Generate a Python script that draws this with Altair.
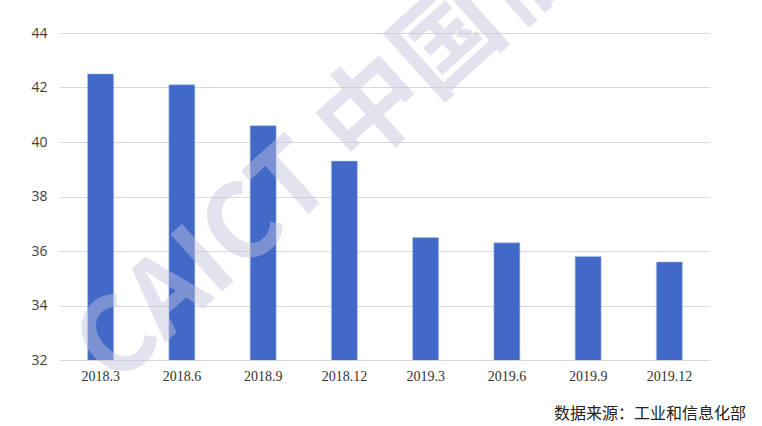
import altair as alt
import pandas as pd

# Quarterly values
periods = ["2018.3", "2018.6", "2018.9", "2018.12", "2019.3", "2019.6", "2019.9", "2019.12"]
values = [42.5, 42.1, 40.6, 39.3, 36.5, 36.3, 35.8, 35.6]
y_ticks = [32, 34, 36, 38, 40, 42, 44]

source_note = "数据来源：工业和信息化部"
watermark = "CAICT 中国信通院"

df = pd.DataFrame({"period": periods, "value": values})

W, H = 650, 327

base = alt.Chart(df)

bars = base.mark_bar(color="#4169c8", stroke="#a9bde8", strokeWidth=0.6, clip=True).encode(
    x=alt.X(
        "period:N",
        sort=periods,
        title=None,
        scale=alt.Scale(paddingInner=0.68, paddingOuter=0.34),
        axis=alt.Axis(
            labelAngle=0,
            labelFont="Liberation Serif",
            labelFontSize=14,
            labelColor="#333333",
            labelPadding=9,
            ticks=False,
            domain=False,
            grid=False,
        ),
    ),
    y=alt.Y(
        "value:Q",
        title=None,
        scale=alt.Scale(domain=[32, 44], nice=False, zero=False),
        axis=alt.Axis(
            values=y_ticks,
            labelFont="Open Sans",
            labelFontSize=14,
            labelColor="#404040",
            labelPadding=13,
            ticks=False,
            domain=False,
            gridColor="#d9d9d9",
            gridWidth=1,
        ),
    ),
)

# Faint diagonal watermark over the plot
wm = alt.Chart(pd.DataFrame({"t": [watermark]})).mark_text(
    align="left",
    baseline="middle",
    angle=318,
    font="Noto Sans CJK SC",
    fontWeight="bold",
    fontSize=104,
    color="#c3c3dc",
    opacity=0.45,
).encode(x=alt.value(34), y=alt.value(332), text="t:N")

note = alt.Chart(pd.DataFrame({"t": [source_note]})).mark_text(
    align="right",
    baseline="middle",
    font="Noto Sans CJK SC",
    fontSize=16,
    color="#222222",
).encode(x=alt.value(686), y=alt.value(381), text="t:N")

chart = (
    alt.layer(bars, wm, note)
    .properties(
        width=W,
        height=H,
        padding={"left": 60, "top": 33, "right": 52, "bottom": 66},
        autosize=alt.AutoSizeParams(type="none"),
        background="white",
    )
    .configure_view(strokeWidth=0, stroke="transparent")
)

chart.save("out.html", embed_options={"renderer": "svg", "actions": False})
